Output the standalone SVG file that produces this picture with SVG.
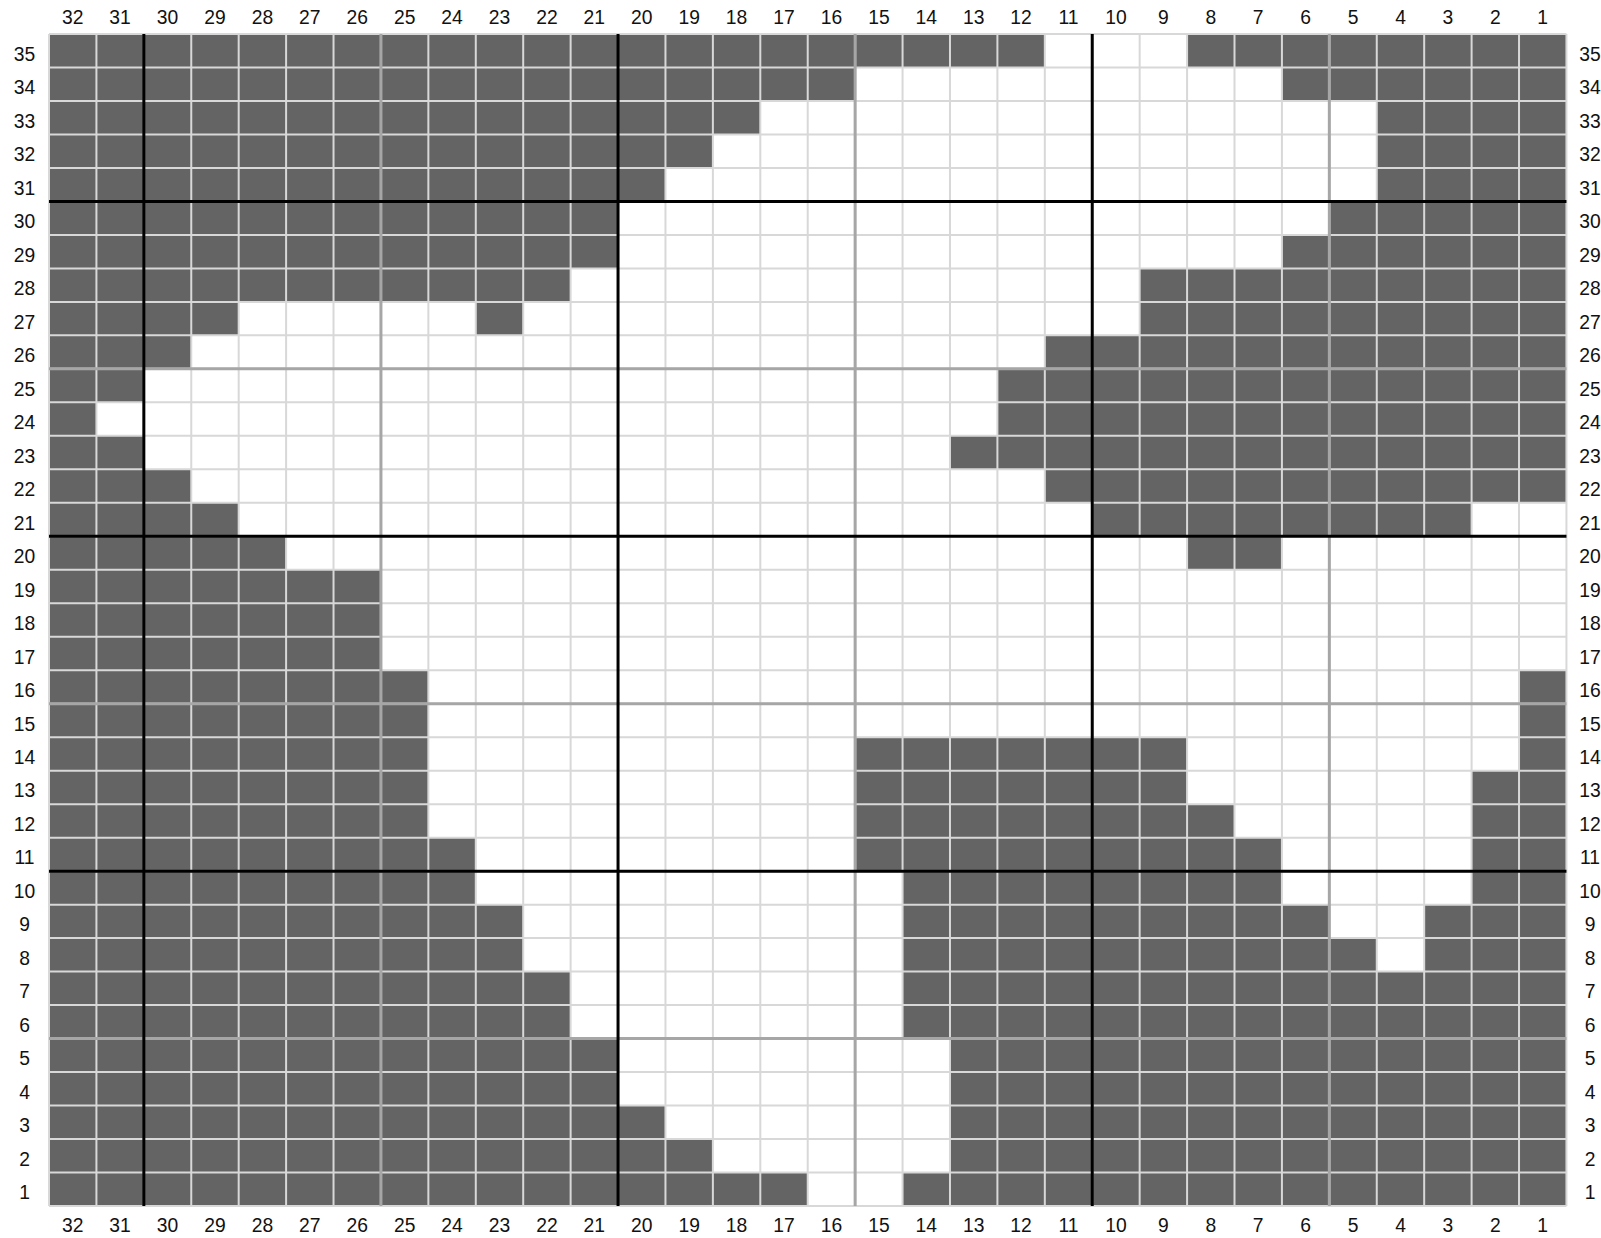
<svg xmlns="http://www.w3.org/2000/svg" width="1601" height="1238" viewBox="0 0 1601 1238">
<style>
.d{fill:#646464}
.thin{stroke:#d8d8d8;stroke-width:2;fill:none}
.grey{stroke:#a6a6a6;stroke-width:3;fill:none}
.blk{stroke:#000;stroke-width:3;fill:none}
text{font-family:"Liberation Sans",Arial,sans-serif;font-size:19.3px;fill:#111;text-anchor:middle}
</style>
<rect width="1601" height="1238" fill="#fff"/>
<g id="chart" transform="translate(49,34) scale(47.42,33.486)">
<g id="cells">
<rect class="d" x="0" y="0" width="21" height="1"/><rect class="d" x="24" y="0" width="8" height="1"/>
<rect class="d" x="0" y="1" width="17" height="1"/><rect class="d" x="26" y="1" width="6" height="1"/>
<rect class="d" x="0" y="2" width="15" height="1"/><rect class="d" x="28" y="2" width="4" height="1"/>
<rect class="d" x="0" y="3" width="14" height="1"/><rect class="d" x="28" y="3" width="4" height="1"/>
<rect class="d" x="0" y="4" width="13" height="1"/><rect class="d" x="28" y="4" width="4" height="1"/>
<rect class="d" x="0" y="5" width="12" height="1"/><rect class="d" x="27" y="5" width="5" height="1"/>
<rect class="d" x="0" y="6" width="12" height="1"/><rect class="d" x="26" y="6" width="6" height="1"/>
<rect class="d" x="0" y="7" width="11" height="1"/><rect class="d" x="23" y="7" width="9" height="1"/>
<rect class="d" x="0" y="8" width="4" height="1"/><rect class="d" x="9" y="8" width="1" height="1"/><rect class="d" x="23" y="8" width="9" height="1"/>
<rect class="d" x="0" y="9" width="3" height="1"/><rect class="d" x="21" y="9" width="11" height="1"/>
<rect class="d" x="0" y="10" width="2" height="1"/><rect class="d" x="20" y="10" width="12" height="1"/>
<rect class="d" x="0" y="11" width="1" height="1"/><rect class="d" x="20" y="11" width="12" height="1"/>
<rect class="d" x="0" y="12" width="2" height="1"/><rect class="d" x="19" y="12" width="13" height="1"/>
<rect class="d" x="0" y="13" width="3" height="1"/><rect class="d" x="21" y="13" width="11" height="1"/>
<rect class="d" x="0" y="14" width="4" height="1"/><rect class="d" x="22" y="14" width="8" height="1"/>
<rect class="d" x="0" y="15" width="5" height="1"/><rect class="d" x="24" y="15" width="2" height="1"/>
<rect class="d" x="0" y="16" width="7" height="3"/>
<rect class="d" x="0" y="19" width="8" height="2"/><rect class="d" x="31" y="19" width="1" height="3"/>
<rect class="d" x="0" y="21" width="8" height="1"/><rect class="d" x="17" y="21" width="7" height="1"/>
<rect class="d" x="0" y="22" width="8" height="1"/><rect class="d" x="17" y="22" width="7" height="1"/><rect class="d" x="30" y="22" width="2" height="4"/>
<rect class="d" x="0" y="23" width="8" height="1"/><rect class="d" x="17" y="23" width="8" height="1"/>
<rect class="d" x="0" y="24" width="9" height="1"/><rect class="d" x="17" y="24" width="9" height="1"/>
<rect class="d" x="0" y="25" width="9" height="1"/><rect class="d" x="18" y="25" width="8" height="1"/>
<rect class="d" x="0" y="26" width="10" height="1"/><rect class="d" x="18" y="26" width="9" height="1"/><rect class="d" x="29" y="26" width="3" height="1"/>
<rect class="d" x="0" y="27" width="10" height="1"/><rect class="d" x="18" y="27" width="10" height="1"/><rect class="d" x="29" y="27" width="3" height="1"/>
<rect class="d" x="0" y="28" width="11" height="2"/><rect class="d" x="18" y="28" width="14" height="2"/>
<rect class="d" x="0" y="30" width="12" height="2"/><rect class="d" x="19" y="30" width="13" height="2"/>
<rect class="d" x="0" y="32" width="13" height="1"/><rect class="d" x="19" y="32" width="13" height="1"/>
<rect class="d" x="0" y="33" width="14" height="1"/><rect class="d" x="19" y="33" width="13" height="1"/>
<rect class="d" x="0" y="34" width="16" height="1"/><rect class="d" x="18" y="34" width="14" height="1"/>
</g>
<g id="gridlines">
<path class="thin" vector-effect="non-scaling-stroke" d="M0 0V35M1 0V35M2 0V35M3 0V35M4 0V35M5 0V35M6 0V35M7 0V35M8 0V35M9 0V35M10 0V35M11 0V35M12 0V35M13 0V35M14 0V35M15 0V35M16 0V35M17 0V35M18 0V35M19 0V35M20 0V35M21 0V35M22 0V35M23 0V35M24 0V35M25 0V35M26 0V35M27 0V35M28 0V35M29 0V35M30 0V35M31 0V35M32 0V35"/>
<path class="thin" vector-effect="non-scaling-stroke" d="M0 0H32M0 1H32M0 2H32M0 3H32M0 4H32M0 5H32M0 6H32M0 7H32M0 8H32M0 9H32M0 10H32M0 11H32M0 12H32M0 13H32M0 14H32M0 15H32M0 16H32M0 17H32M0 18H32M0 19H32M0 20H32M0 21H32M0 22H32M0 23H32M0 24H32M0 25H32M0 26H32M0 27H32M0 28H32M0 29H32M0 30H32M0 31H32M0 32H32M0 33H32M0 34H32M0 35H32"/>
<path class="grey" vector-effect="non-scaling-stroke" d="M7 0V35M17 0V35M27 0V35M0 10H32M0 20H32M0 30H32"/>
<path class="blk" vector-effect="non-scaling-stroke" d="M2 0V35M12 0V35M22 0V35M0 5H32M0 15H32M0 25H32"/>
</g>
</g>
<g id="top-labels">
<text x="72.7" y="24.4">32</text><text x="120.1" y="24.4">31</text><text x="167.6" y="24.4">30</text><text x="215" y="24.4">29</text><text x="262.4" y="24.4">28</text><text x="309.8" y="24.4">27</text><text x="357.2" y="24.4">26</text><text x="404.7" y="24.4">25</text><text x="452.1" y="24.4">24</text><text x="499.5" y="24.4">23</text><text x="546.9" y="24.4">22</text><text x="594.3" y="24.4">21</text><text x="641.8" y="24.4">20</text><text x="689.2" y="24.4">19</text><text x="736.6" y="24.4">18</text><text x="784" y="24.4">17</text><text x="831.4" y="24.4">16</text><text x="878.9" y="24.4">15</text><text x="926.3" y="24.4">14</text><text x="973.7" y="24.4">13</text><text x="1021.1" y="24.4">12</text><text x="1068.5" y="24.4">11</text><text x="1116" y="24.4">10</text><text x="1163.4" y="24.4">9</text><text x="1210.8" y="24.4">8</text><text x="1258.2" y="24.4">7</text><text x="1305.6" y="24.4">6</text><text x="1353.1" y="24.4">5</text><text x="1400.5" y="24.4">4</text><text x="1447.9" y="24.4">3</text><text x="1495.3" y="24.4">2</text><text x="1542.7" y="24.4">1</text>
</g>
<g id="bottom-labels">
<text x="72.7" y="1231.7">32</text><text x="120.1" y="1231.7">31</text><text x="167.6" y="1231.7">30</text><text x="215" y="1231.7">29</text><text x="262.4" y="1231.7">28</text><text x="309.8" y="1231.7">27</text><text x="357.2" y="1231.7">26</text><text x="404.7" y="1231.7">25</text><text x="452.1" y="1231.7">24</text><text x="499.5" y="1231.7">23</text><text x="546.9" y="1231.7">22</text><text x="594.3" y="1231.7">21</text><text x="641.8" y="1231.7">20</text><text x="689.2" y="1231.7">19</text><text x="736.6" y="1231.7">18</text><text x="784" y="1231.7">17</text><text x="831.4" y="1231.7">16</text><text x="878.9" y="1231.7">15</text><text x="926.3" y="1231.7">14</text><text x="973.7" y="1231.7">13</text><text x="1021.1" y="1231.7">12</text><text x="1068.5" y="1231.7">11</text><text x="1116" y="1231.7">10</text><text x="1163.4" y="1231.7">9</text><text x="1210.8" y="1231.7">8</text><text x="1258.2" y="1231.7">7</text><text x="1305.6" y="1231.7">6</text><text x="1353.1" y="1231.7">5</text><text x="1400.5" y="1231.7">4</text><text x="1447.9" y="1231.7">3</text><text x="1495.3" y="1231.7">2</text><text x="1542.7" y="1231.7">1</text>
</g>
<g id="left-labels">
<text x="24.5" y="60.7">35</text><text x="24.5" y="94.2">34</text><text x="24.5" y="127.7">33</text><text x="24.5" y="161.2">32</text><text x="24.5" y="194.7">31</text><text x="24.5" y="228.2">30</text><text x="24.5" y="261.7">29</text><text x="24.5" y="295.1">28</text><text x="24.5" y="328.6">27</text><text x="24.5" y="362.1">26</text><text x="24.5" y="395.6">25</text><text x="24.5" y="429.1">24</text><text x="24.5" y="462.6">23</text><text x="24.5" y="496.1">22</text><text x="24.5" y="529.5">21</text><text x="24.5" y="563">20</text><text x="24.5" y="596.5">19</text><text x="24.5" y="630">18</text><text x="24.5" y="663.5">17</text><text x="24.5" y="697">16</text><text x="24.5" y="730.5">15</text><text x="24.5" y="763.9">14</text><text x="24.5" y="797.4">13</text><text x="24.5" y="830.9">12</text><text x="24.5" y="864.4">11</text><text x="24.5" y="897.9">10</text><text x="24.5" y="931.4">9</text><text x="24.5" y="964.9">8</text><text x="24.5" y="998.3">7</text><text x="24.5" y="1031.8">6</text><text x="24.5" y="1065.3">5</text><text x="24.5" y="1098.8">4</text><text x="24.5" y="1132.3">3</text><text x="24.5" y="1165.8">2</text><text x="24.5" y="1199.3">1</text>
</g>
<g id="right-labels">
<text x="1590" y="60.7">35</text><text x="1590" y="94.2">34</text><text x="1590" y="127.7">33</text><text x="1590" y="161.2">32</text><text x="1590" y="194.7">31</text><text x="1590" y="228.2">30</text><text x="1590" y="261.7">29</text><text x="1590" y="295.1">28</text><text x="1590" y="328.6">27</text><text x="1590" y="362.1">26</text><text x="1590" y="395.6">25</text><text x="1590" y="429.1">24</text><text x="1590" y="462.6">23</text><text x="1590" y="496.1">22</text><text x="1590" y="529.5">21</text><text x="1590" y="563">20</text><text x="1590" y="596.5">19</text><text x="1590" y="630">18</text><text x="1590" y="663.5">17</text><text x="1590" y="697">16</text><text x="1590" y="730.5">15</text><text x="1590" y="763.9">14</text><text x="1590" y="797.4">13</text><text x="1590" y="830.9">12</text><text x="1590" y="864.4">11</text><text x="1590" y="897.9">10</text><text x="1590" y="931.4">9</text><text x="1590" y="964.9">8</text><text x="1590" y="998.3">7</text><text x="1590" y="1031.8">6</text><text x="1590" y="1065.3">5</text><text x="1590" y="1098.8">4</text><text x="1590" y="1132.3">3</text><text x="1590" y="1165.8">2</text><text x="1590" y="1199.3">1</text>
</g>
</svg>
